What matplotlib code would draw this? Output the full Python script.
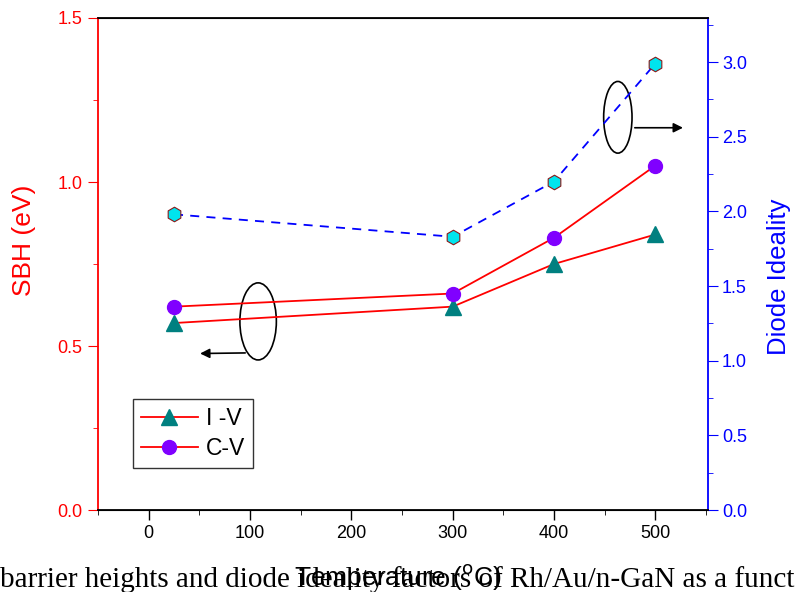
import matplotlib.pyplot as plt
from matplotlib.patches import Ellipse

plt.rcParams["font.family"] = ["Liberation Sans", "DejaVu Sans"]

temperature = [25, 300, 400, 500]
sbh_iv = [0.57, 0.62, 0.75, 0.84]
sbh_cv = [0.62, 0.66, 0.83, 1.05]
ideality = [1.98, 1.83, 2.20, 2.99]

red = "#ff0000"
blue = "#0000ff"

fig = plt.figure(figsize=(7.95, 5.92), dpi=100)
ax = fig.add_axes([0.1233, 0.1385, 0.7673, 0.8311])
ax2 = ax.twinx()

ax.plot(temperature, sbh_iv, color=red, lw=1.3, marker="^", ms=11,
        mfc="#008080", mec="#008080", label="I -V")
ax.plot(temperature, sbh_cv, color=red, lw=1.3, marker="o", ms=10,
        mfc="#8000ff", mec="#8000ff", label="C-V")
ax2.plot(temperature, ideality, color=blue, lw=1.3, ls=(0, (5, 4)),
         marker="h", ms=10.5, mfc="#00e5ee", mec="#8b1a1a", mew=0.8)

ax.set_xlim(-50, 552)
ax.set_ylim(0, 1.5)
ax2.set_ylim(0, 3.295)

ax.set_xticks([0, 100, 200, 300, 400, 500])
ax.set_xticks([-50, 50, 150, 250, 350, 450, 550], minor=True)
ax.set_yticks([0.0, 0.5, 1.0, 1.5])
ax.set_yticks([0.25, 0.75, 1.25], minor=True)
ax.yaxis.set_major_formatter(plt.FormatStrFormatter("%.1f"))
ax2.set_yticks([0.0, 0.5, 1.0, 1.5, 2.0, 2.5, 3.0])
ax2.set_yticks([0.25, 0.75, 1.25, 1.75, 2.25, 2.75, 3.25], minor=True)
ax2.yaxis.set_major_formatter(plt.FormatStrFormatter("%.1f"))

ax.tick_params(axis="x", direction="out", length=7, width=1, labelsize=13,
               pad=4)
ax.tick_params(axis="x", which="minor", direction="out", length=3.5)
ax.tick_params(axis="y", which="both", direction="out", colors=red,
               labelsize=13, pad=4)
ax.tick_params(axis="y", which="major", length=7)
ax.tick_params(axis="y", which="minor", length=3.5)
ax2.tick_params(axis="y", which="both", direction="out", colors=blue,
                labelsize=13, pad=3)
ax2.tick_params(axis="y", which="major", length=7)
ax2.tick_params(axis="y", which="minor", length=3.5)

ax.spines["left"].set_color(red)
ax.spines["left"].set_linewidth(1.3)
ax2.spines["left"].set_visible(False)
ax2.spines["right"].set_color(blue)
ax2.spines["right"].set_linewidth(1.3)
ax.spines["right"].set_visible(False)
ax2.spines["top"].set_linewidth(1.3)
ax2.spines["bottom"].set_linewidth(1.3)

ax.set_ylabel("SBH (eV)", color=red, fontsize=19)
ax.yaxis.set_label_coords(-0.102, 0.549)
ax2.set_ylabel("Diode Ideality", color=blue, fontsize=18.5)
ax2.yaxis.set_label_coords(1.097, 0.474)

# guide ellipses and arrows
ax.add_patch(Ellipse((108, 0.575), 36, 0.235, fill=False, lw=1.2,
                     color="black"))
ax.annotate("", xy=(48, 0.477), xytext=(98, 0.479),
            arrowprops=dict(arrowstyle="-|>", color="black", lw=1.2,
                          mutation_scale=14))
ax2.add_patch(Ellipse((463, 2.63), 28, 0.48, fill=False, lw=1.2,
                      color="black"))
ax2.annotate("", xy=(530, 2.56), xytext=(477, 2.56),
             arrowprops=dict(arrowstyle="-|>", color="black", lw=1.2,
                           mutation_scale=14))

leg = ax.legend(loc="lower left", bbox_to_anchor=(0.057, 0.085),
                borderaxespad=0, fontsize=16.5, frameon=True,
                fancybox=False, edgecolor="black", handlelength=2.5,
                handletextpad=0.35, borderpad=0.35, labelspacing=0.3)
leg.get_frame().set_linewidth(1.0)

fig.text(0.5, 0.011, "Temperature ($^{\\rm o}$C)", ha="center",
         va="baseline", fontsize=19)
fig.text(0.0, 0.0085, "barrier heights and diode ideality factors of "
         "Rh/Au/n-GaN as a funct",
         family=["Liberation Serif", "DejaVu Serif"], fontsize=21,
         ha="left", va="baseline")

fig.savefig("out.png", dpi=100)
